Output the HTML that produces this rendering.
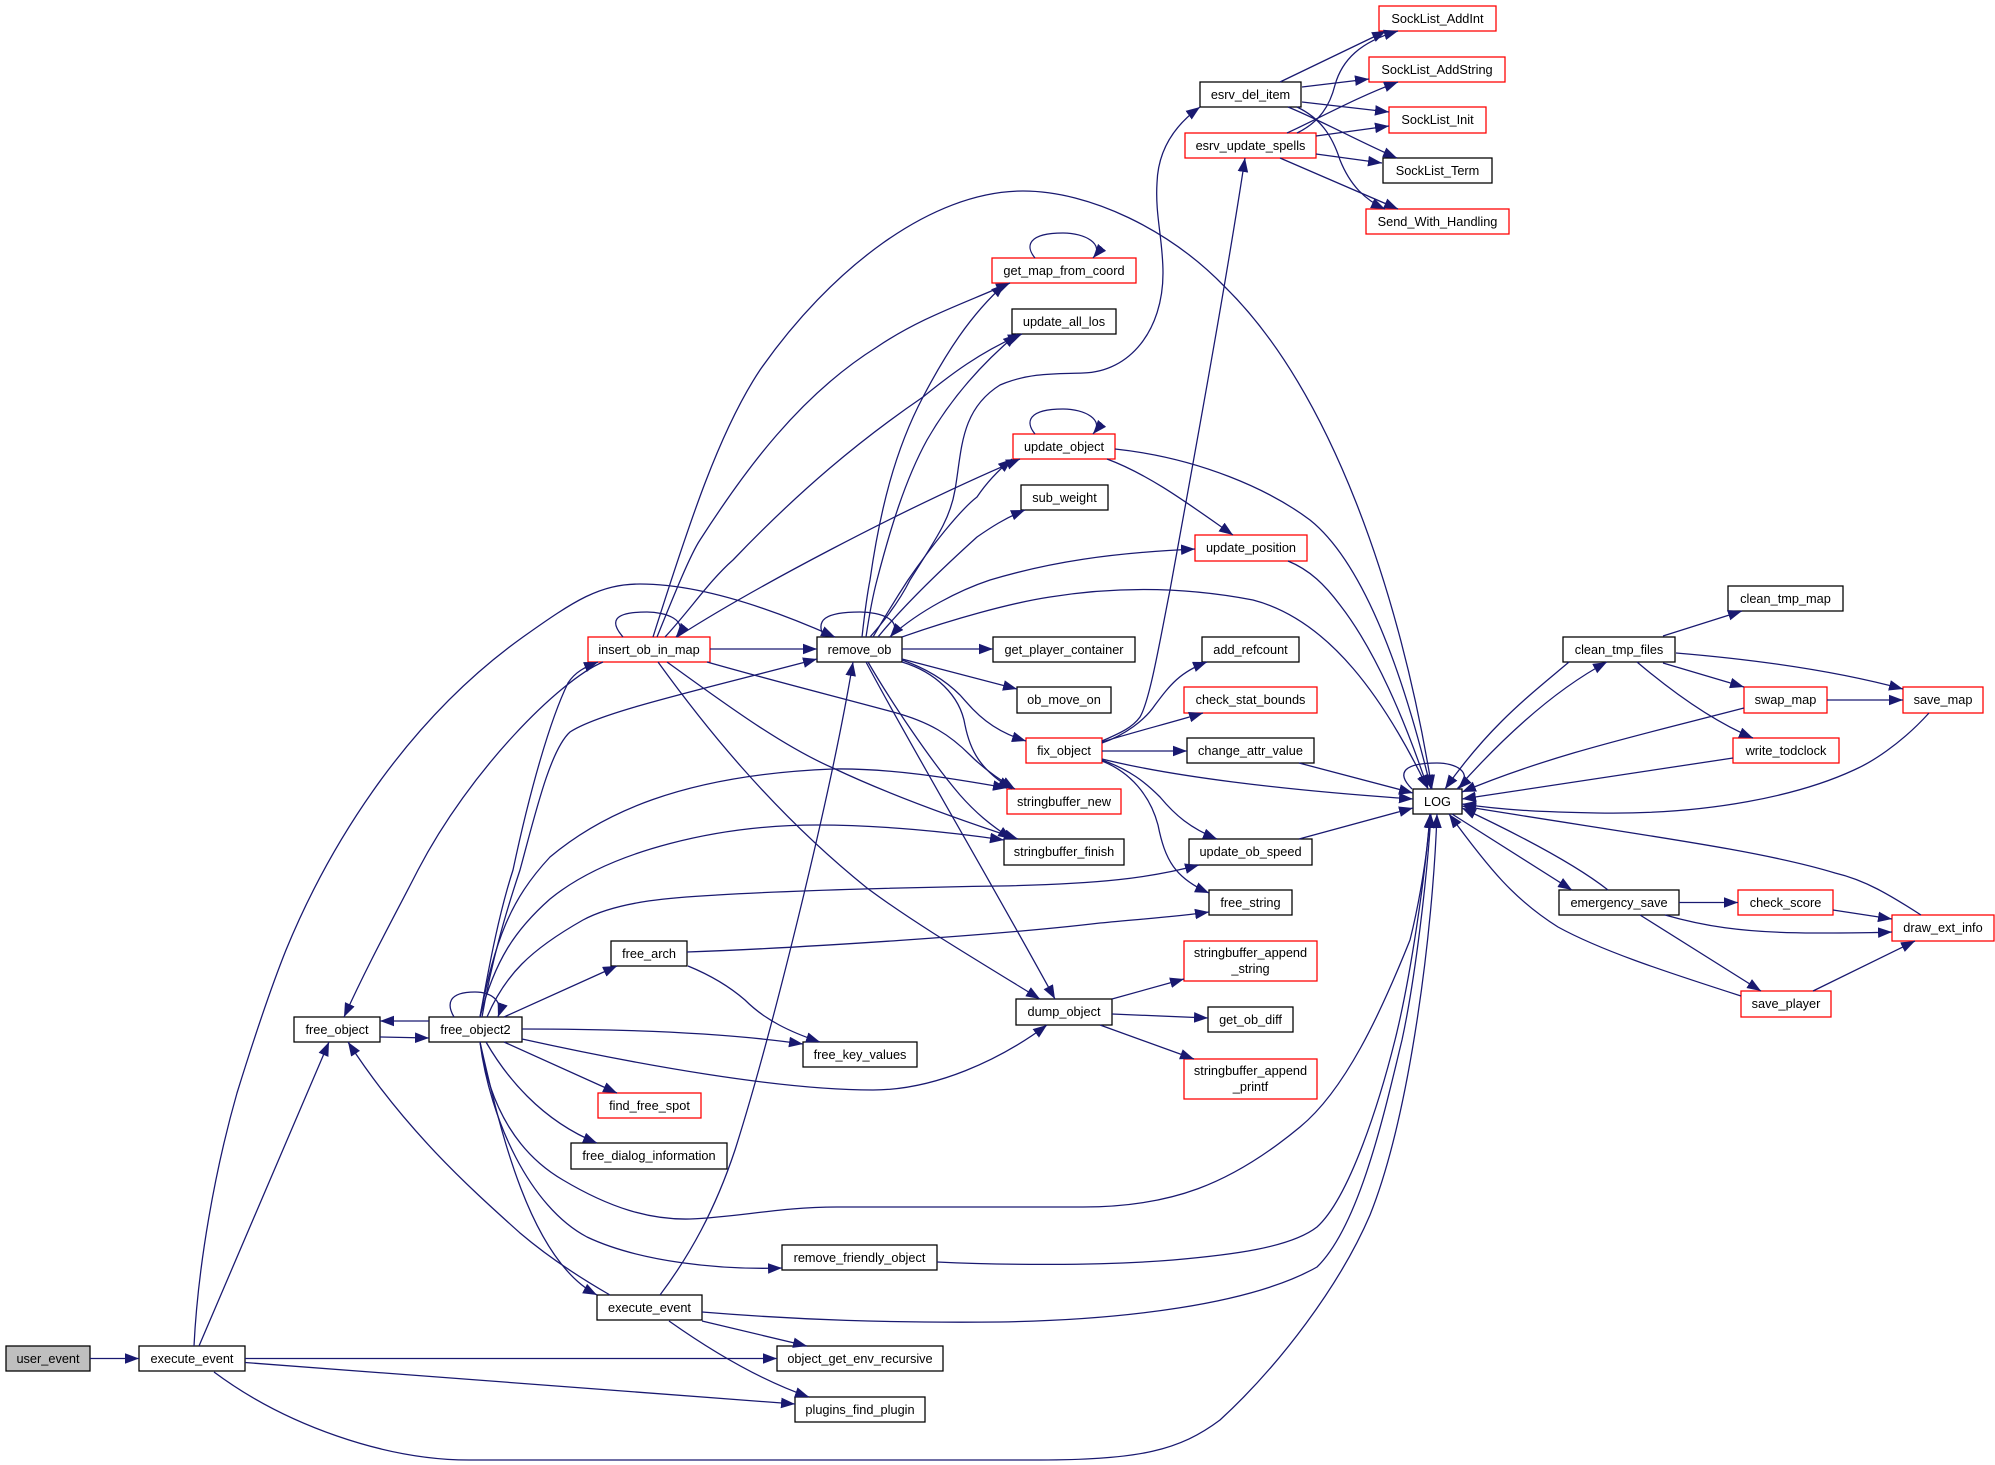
<!DOCTYPE html>
<html><head><meta charset="utf-8"><style>
html,body{margin:0;padding:0;background:#fff}
svg{display:block}
text{font-family:"Liberation Sans",Arial,sans-serif;font-size:12.75px;text-anchor:middle;fill:#000}
.e path{fill:none;stroke:#191970;stroke-width:1.27;marker-end:url(#a)}
.n rect{fill:#fff;stroke:#000;stroke-width:1.27}
.n rect.r{stroke:#f00}
</style></head><body>
<svg width="1995" height="1465" viewBox="0 0 1995 1465" xmlns="http://www.w3.org/2000/svg">
<defs><marker id="a" markerUnits="userSpaceOnUse" markerWidth="15" markerHeight="12" refX="14" refY="5.300" orient="auto"><path d="M0,0L14,5.300L0,10.600z" fill="#191970"/></marker></defs>
<g class="n">
<rect x="6" y="1346" width="84" height="25" style="fill:#bfbfbf"/>
<rect x="139" y="1346" width="106" height="25"/>
<rect x="294" y="1017" width="86" height="25"/>
<rect x="429" y="1017" width="93" height="25"/>
<rect x="611" y="941" width="76" height="25"/>
<rect x="803" y="1042" width="114" height="25"/>
<rect class="r" x="598" y="1093" width="103" height="25"/>
<rect x="571" y="1143" width="156" height="26"/>
<rect x="782" y="1245" width="155" height="25"/>
<rect x="597" y="1295" width="105" height="25"/>
<rect x="777" y="1346" width="166" height="25"/>
<rect x="795" y="1397" width="130" height="25"/>
<rect class="r" x="588" y="637" width="122" height="25"/>
<rect x="817" y="637" width="85" height="25"/>
<rect x="993" y="637" width="142" height="25"/>
<rect x="1017" y="687" width="94" height="26"/>
<rect class="r" x="1026" y="738" width="76" height="25"/>
<rect class="r" x="1007" y="789" width="114" height="25"/>
<rect x="1004" y="839" width="120" height="26"/>
<rect x="1202" y="637" width="97" height="25"/>
<rect class="r" x="1184" y="687" width="133" height="26"/>
<rect x="1187" y="738" width="127" height="25"/>
<rect x="1413" y="789" width="49" height="25"/>
<rect x="1189" y="839" width="123" height="26"/>
<rect x="1209" y="890" width="83" height="25"/>
<rect class="r" x="1184" y="941" width="133" height="40"/>
<rect x="1016" y="999" width="96" height="26"/>
<rect x="1208" y="1007" width="85" height="25"/>
<rect class="r" x="1184" y="1059" width="133" height="40"/>
<rect x="1200" y="82" width="101" height="25"/>
<rect class="r" x="1185" y="133" width="131" height="25"/>
<rect class="r" x="1379" y="6" width="117" height="25"/>
<rect class="r" x="1369" y="57" width="136" height="25"/>
<rect class="r" x="1389" y="107" width="97" height="26"/>
<rect x="1383" y="158" width="109" height="25"/>
<rect class="r" x="1366" y="209" width="143" height="25"/>
<rect class="r" x="992" y="258" width="144" height="25"/>
<rect x="1012" y="309" width="104" height="25"/>
<rect class="r" x="1013" y="434" width="102" height="25"/>
<rect x="1021" y="485" width="87" height="25"/>
<rect class="r" x="1195" y="535" width="112" height="26"/>
<rect x="1728" y="586" width="115" height="25"/>
<rect x="1563" y="637" width="112" height="25"/>
<rect class="r" x="1744" y="687" width="83" height="26"/>
<rect class="r" x="1903" y="687" width="80" height="26"/>
<rect class="r" x="1733" y="738" width="106" height="25"/>
<rect x="1559" y="890" width="120" height="25"/>
<rect class="r" x="1738" y="890" width="95" height="25"/>
<rect class="r" x="1892" y="915" width="102" height="26"/>
<rect class="r" x="1741" y="991" width="90" height="26"/>
</g>
<g class="e">
<path d="M90,1358.5L139,1358.5"/>
<path d="M194,1346C198,1265 215,1170 237,1093C255,1035 270,990 286,950C325,855 400,725 523,637C575,600 600,584 640,584C700,584 770,608 835,637"/>
<path d="M199,1346L329,1042"/>
<path d="M245,1358.5L777,1358.5"/>
<path d="M245,1362.5L795,1404"/>
<path d="M214,1372C285,1425 385,1460 469,1460L1040,1460C1140,1460 1180,1450 1220,1420C1280,1365 1340,1285 1370,1215C1410,1115 1433,930 1437,814"/>
<path d="M380,1037L429,1038"/>
<path d="M429,1021L380,1021"/>
<path d="M454,1017C447,1005 447,992 475,992C490,992 504,1000 498,1017"/>
<path d="M504,1017L617,966"/>
<path d="M522,1029C620,1029 720,1032 803,1044"/>
<path d="M522,1039C640,1065 780,1090 873,1090C935,1090 1000,1060 1047,1025"/>
<path d="M504,1042L617,1093"/>
<path d="M486,1042C505,1075 540,1120 597,1143"/>
<path d="M480,1042C490,1110 520,1155 563,1180C610,1208 650,1220 690,1219C740,1217 780,1207 837,1207L1083,1207C1170,1207 1230,1185 1300,1127C1345,1090 1380,1015 1410,940C1420,900 1428,850 1430,814"/>
<path d="M480,1042C490,1120 530,1207 587,1237C640,1262 720,1270 782,1268"/>
<path d="M480,1042C500,1130 530,1260 597,1295"/>
<path d="M610,1295C570,1272 540,1250 520,1233C470,1188 405,1130 348,1042"/>
<path d="M660,1295C690,1255 715,1210 735,1150C770,1040 830,800 853,662"/>
<path d="M702,1312C800,1320 890,1323 1000,1322C1120,1320 1250,1305 1317,1267C1360,1225 1385,1110 1402,1040C1415,980 1427,880 1431,814"/>
<path d="M937,1262C1000,1265 1100,1266 1173,1260C1230,1255 1290,1248 1317,1227C1350,1197 1380,1100 1395,1040C1410,980 1425,880 1430,814"/>
<path d="M480,1017C495,940 510,900 550,857C600,815 680,775 833,769C890,768 950,778 1007,788"/>
<path d="M480,1017C495,960 515,930 550,899C610,850 720,825 817,825C880,825 950,832 1004,840"/>
<path d="M487,1017C505,975 530,950 583,920C620,900 680,897 717,895C800,890 930,887 1000,886C1100,884 1150,878 1199,865"/>
<path d="M480,1017C490,960 500,910 513,870C530,790 550,720 568,683C575,672 585,667 598,662"/>
<path d="M482,1017C492,960 505,915 520,870C535,815 550,750 570,732C600,712 700,690 817,659"/>
<path d="M603,662C560,680 470,770 418,870C395,915 370,960 344,1017"/>
<path d="M623,637C610,622 612,612 647,612C665,612 690,620 676,637"/>
<path d="M710,649L817,649"/>
<path d="M653,637C690,520 720,430 760,370C830,270 930,191 1023,191C1090,191 1170,230 1225,287C1330,390 1400,590 1432,789"/>
<path d="M657,637C672,600 690,555 700,540C745,470 800,395 877,347C920,318 960,305 1010,283"/>
<path d="M665,637C690,610 710,580 733,560C800,490 860,440 923,397C950,375 980,352 1022,334"/>
<path d="M677,637C750,590 900,510 1020,459"/>
<path d="M707,662C770,680 830,695 893,712C930,722 950,735 970,755C985,770 1000,780 1015,789"/>
<path d="M667,662C720,700 780,745 833,768C890,795 960,820 1018,839"/>
<path d="M658,662C700,720 770,810 867,888C910,920 960,950 1040,999"/>
<path d="M824,637C815,620 825,612 860,612C880,612 905,620 890,637"/>
<path d="M862,637C865,610 867,595 870,580C880,510 895,450 923,397C945,355 970,315 1005,284"/>
<path d="M866,637C870,610 873,595 877,580C890,530 905,480 927,440C950,400 980,365 1017,334"/>
<path d="M870,637C885,620 900,600 910,580C935,540 950,520 955,490C962,450 960,410 1000,385C1030,372 1060,374 1083,373C1130,372 1163,330 1163,273C1163,240 1155,215 1157,183C1158,150 1175,125 1200,107"/>
<path d="M873,637C880,625 895,600 908,580C930,548 960,510 977,497C985,485 995,473 1012,459"/>
<path d="M878,637C900,610 935,575 977,537C990,528 1005,518 1025,510"/>
<path d="M890,637C920,610 960,590 990,580C1050,562 1110,553 1195,549"/>
<path d="M902,637C950,620 1010,603 1050,597C1100,589 1170,584 1253,600C1330,620 1385,700 1428,789"/>
<path d="M902,649L993,649"/>
<path d="M902,659L1017,689"/>
<path d="M902,660C925,668 945,680 960,695C975,712 990,730 1026,741"/>
<path d="M902,662C935,672 960,695 965,725C970,750 980,770 1012,789"/>
<path d="M868,662C890,700 930,760 960,795C975,812 990,825 1012,839"/>
<path d="M866,662C910,745 990,880 1055,999"/>
<path d="M1102,741C1120,733 1132,728 1140,717C1150,700 1160,640 1170,590C1190,480 1225,290 1245,158"/>
<path d="M1102,743C1125,735 1145,720 1155,705C1170,685 1180,672 1207,662"/>
<path d="M1102,742C1130,733 1170,723 1203,713"/>
<path d="M1102,751L1187,751"/>
<path d="M1102,759C1170,776 1280,790 1413,799"/>
<path d="M1102,760C1130,770 1145,782 1160,797C1175,815 1190,828 1217,839"/>
<path d="M1102,761C1130,772 1150,795 1158,825C1165,860 1175,878 1209,893"/>
<path d="M1299,839L1413,808"/>
<path d="M1299,763L1413,793"/>
<path d="M687,952C800,948 1000,935 1100,923C1140,919 1175,917 1209,912"/>
<path d="M688,966C710,975 730,987 745,1000C765,1020 790,1032 820,1042"/>
<path d="M1112,999L1184,979"/>
<path d="M1112,1014L1208,1018"/>
<path d="M1100,1025L1194,1059"/>
<path d="M1035,434C1025,422 1028,409 1063,409C1085,409 1105,420 1093,434"/>
<path d="M1035,258C1025,246 1028,233 1063,233C1085,233 1105,244 1093,258"/>
<path d="M1107,459C1150,475 1190,505 1233,535"/>
<path d="M1115,449C1200,458 1270,490 1310,520C1360,560 1400,660 1431,789"/>
<path d="M1288,561C1310,570 1325,585 1340,605C1375,650 1405,720 1428,789"/>
<path d="M1280,82L1386,31"/>
<path d="M1302,87L1369,79"/>
<path d="M1302,102L1389,112"/>
<path d="M1288,107C1320,120 1360,142 1397,158"/>
<path d="M1297,107C1320,118 1332,135 1340,160C1350,185 1365,200 1385,209"/>
<path d="M1297,133C1320,122 1330,105 1335,85C1342,60 1360,42 1398,31"/>
<path d="M1287,133C1320,118 1355,98 1398,82"/>
<path d="M1316,136L1389,126"/>
<path d="M1316,154L1382,163"/>
<path d="M1280,158L1398,209"/>
<path d="M1412,789C1395,772 1405,763 1437,763C1455,763 1475,772 1458,789"/>
<path d="M1457,789C1490,752 1545,695 1607,662"/>
<path d="M1569,662C1530,695 1490,725 1445,789"/>
<path d="M1663,636L1742,611"/>
<path d="M1676,653C1760,660 1840,672 1903,689"/>
<path d="M1663,663L1744,687"/>
<path d="M1637,662C1670,690 1710,720 1753,738"/>
<path d="M1827,700L1903,700"/>
<path d="M1744,708C1640,735 1550,755 1462,792"/>
<path d="M1733,758L1462,799"/>
<path d="M1929,713C1900,745 1870,763 1854,770C1800,795 1710,815 1597,813C1550,812 1510,811 1462,804"/>
<path d="M1921,915C1890,895 1865,880 1835,873C1760,850 1640,835 1462,806"/>
<path d="M1452,814L1572,890"/>
<path d="M1608,890C1580,868 1530,840 1462,808"/>
<path d="M1679,902.5L1738,902.5"/>
<path d="M1833,910L1892,919"/>
<path d="M1665,915C1700,925 1740,933 1815,933C1850,933 1870,933 1892,932"/>
<path d="M1640,915L1761,991"/>
<path d="M1813,991L1915,941"/>
<path d="M1741,996C1660,970 1600,950 1558,927C1515,900 1490,870 1449,814"/>
<path d="M702,1321L807,1346"/>
<path d="M669,1321C710,1350 760,1380 809,1397"/>
</g>
<g>
<text x="48" y="1363">user_event</text>
<text x="192" y="1363">execute_event</text>
<text x="337" y="1034">free_object</text>
<text x="475.500" y="1034">free_object2</text>
<text x="649" y="958">free_arch</text>
<text x="860" y="1059">free_key_values</text>
<text x="649.500" y="1110">find_free_spot</text>
<text x="649" y="1160">free_dialog_information</text>
<text x="859.500" y="1262">remove_friendly_object</text>
<text x="649.500" y="1312">execute_event</text>
<text x="860" y="1363">object_get_env_recursive</text>
<text x="860" y="1414">plugins_find_plugin</text>
<text x="649" y="654">insert_ob_in_map</text>
<text x="859.500" y="654">remove_ob</text>
<text x="1064" y="654">get_player_container</text>
<text x="1064" y="704">ob_move_on</text>
<text x="1064" y="755">fix_object</text>
<text x="1064" y="806">stringbuffer_new</text>
<text x="1064" y="856">stringbuffer_finish</text>
<text x="1250.500" y="654">add_refcount</text>
<text x="1250.500" y="704">check_stat_bounds</text>
<text x="1250.500" y="755">change_attr_value</text>
<text x="1437.500" y="806">LOG</text>
<text x="1250.500" y="856">update_ob_speed</text>
<text x="1250.500" y="907">free_string</text>
<text x="1250.500" y="957">stringbuffer_append</text>
<text x="1250.500" y="973">_string</text>
<text x="1064" y="1016">dump_object</text>
<text x="1250.500" y="1024">get_ob_diff</text>
<text x="1250.500" y="1075">stringbuffer_append</text>
<text x="1250.500" y="1091">_printf</text>
<text x="1250.500" y="99">esrv_del_item</text>
<text x="1250.500" y="150">esrv_update_spells</text>
<text x="1437.500" y="23">SockList_AddInt</text>
<text x="1437" y="74">SockList_AddString</text>
<text x="1437.500" y="124">SockList_Init</text>
<text x="1437.500" y="175">SockList_Term</text>
<text x="1437.500" y="226">Send_With_Handling</text>
<text x="1064" y="275">get_map_from_coord</text>
<text x="1064" y="326">update_all_los</text>
<text x="1064" y="451">update_object</text>
<text x="1064.500" y="502">sub_weight</text>
<text x="1251" y="552">update_position</text>
<text x="1785.500" y="603">clean_tmp_map</text>
<text x="1619" y="654">clean_tmp_files</text>
<text x="1785.500" y="704">swap_map</text>
<text x="1943" y="704">save_map</text>
<text x="1786" y="755">write_todclock</text>
<text x="1619" y="907">emergency_save</text>
<text x="1785.500" y="907">check_score</text>
<text x="1943" y="932">draw_ext_info</text>
<text x="1786" y="1008">save_player</text>
</g>
</svg>
</body></html>
